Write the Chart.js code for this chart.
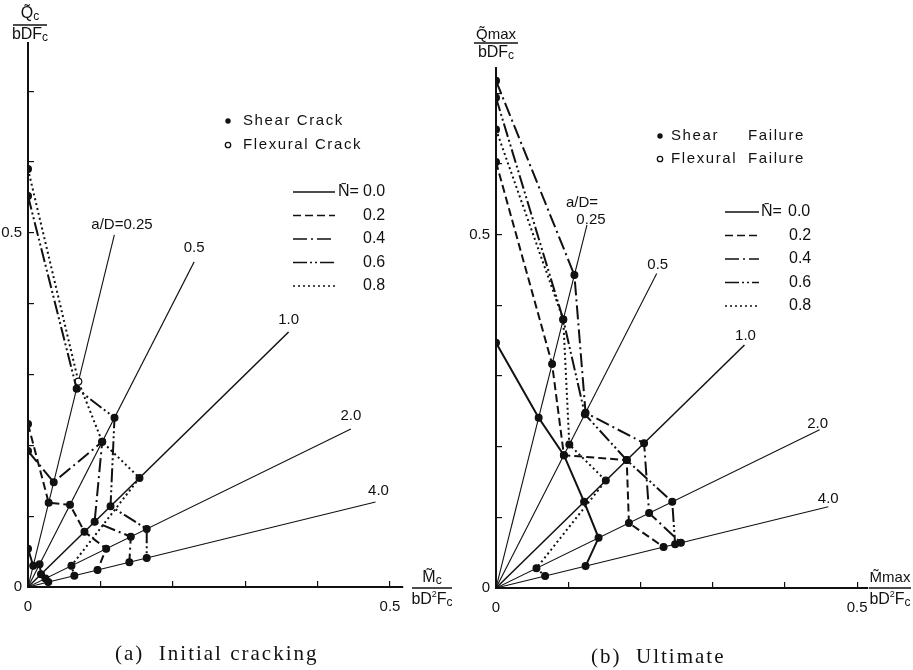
<!DOCTYPE html>
<html><head><meta charset="utf-8">
<script src="https://cdn.jsdelivr.net/npm/chart.js@4.4.1/dist/chart.umd.min.js"></script>
<style>
html,body{margin:0;padding:0;background:#fff;width:913px;height:670px;overflow:hidden}
.wrap{position:absolute;top:0;height:670px}
#wa{left:0;width:456px}
#wb{left:456px;width:457px}
.cap{position:absolute;font-family:"Liberation Serif","DejaVu Serif",serif;font-size:21px;color:#111;letter-spacing:2px;white-space:pre}
</style></head><body>
<div class="wrap" id="wa"><canvas id="ca" width="456" height="670"></canvas></div>
<div class="wrap" id="wb"><canvas id="cb" width="457" height="670"></canvas></div>
<div class="cap" style="left:115px;top:641px">(a)  Initial cracking</div>
<div class="cap" style="left:591px;top:644px">(b)  Ultimate</div>
<script>
// ---------- data ----------
// radial lines a/D (labels) and the M/(Q·D) slope measured along each drawn ray
const aDLabels = ['0.25', '0.5', '1.0', '2.0', '4.0'];
const slopeA = [0, 0.24, 0.5, 1.0, 2.0, 4.0];   // first entry: Q axis (a/D = 0)
const slopeB = [0, 0.245, 0.5, 1.0, 2.0, 4.0];
const rayEndQA = [0.497, 0.459, 0.360, 0.223, 0.120];
const rayEndQB = [0.514, 0.445, 0.344, 0.224, 0.115];
const nBar = ['0.0', '0.2', '0.4', '0.6', '0.8'];

// (a) initial cracking  Qc/bDFc at a/D = 0, 0.25, 0.5, 1.0, 2.0, 4.0
const crackN00 = [0.054, 0.030, 0.032, 0.018, 0.012, 0.007];
const crackN02 = [0.230, 0.119, 0.116, 0.078, 0.054, 0.024];
const crackN04 = [0.192, 0.148, 0.205, 0.092, 0.071, 0.035];
const crackN06 = [0.552, 0.280, 0.239, 0.114, 0.082, 0.041];
const crackN08 = [0.590, 0.290, 0.205, 0.154, 0.030, 0.016];
const crackFlexural = [[], [], [], [], [1]];   // indices of flexural-crack (open) points

// (b) ultimate  Qmax/bDFc at a/D = 0, 0.25, 0.5, 1.0, 2.0, 4.0
const ultN00 = [0.347, 0.241, 0.188, 0.122, 0.071, 0.031];
const ultN02 = [0.603, 0.317, 0.188, 0.181, 0.092, 0.058];
const ultN04 = [0.718, 0.443, 0.248, 0.205, 0.106, 0.064];
const ultN06 = [0.694, 0.380, 0.246, 0.181, 0.122, 0.062];
const ultN08 = [0.649, 0.380, 0.203, 0.152, 0.028, 0.017];
const ultFlexural = [[], [], [], [], []];

// ---------- styling ----------
const INK = '#111';
const SANS = '"Liberation Sans","DejaVu Sans",sans-serif';
const dashes = [[], [8, 4], [14, 4, 2, 4], [14, 3, 2, 3, 2, 3], [2, 3]];

function drawRich(ctx, parts, cx, cy) {
  let w = 0;
  parts.forEach(p => { ctx.font = p.s + 'px ' + SANS; w += ctx.measureText(p.t).width; });
  let x = cx - w / 2;
  ctx.textAlign = 'left'; ctx.textBaseline = 'middle';
  parts.forEach(p => {
    ctx.font = p.s + 'px ' + SANS;
    ctx.fillText(p.t, x, cy + (p.dy || 0));
    x += ctx.measureText(p.t).width;
  });
  return w;
}
function frac(ctx, num, den, cx, yNum, yLine, yDen, halfW) {
  drawRich(ctx, num, cx, yNum);
  drawRich(ctx, den, cx, yDen);
  ctx.lineWidth = 1.4;
  ctx.beginPath(); ctx.moveTo(cx - halfW, yLine); ctx.lineTo(cx + halfW, yLine); ctx.stroke();
}

const decorPlugin = {
  id: 'decor',
  afterDraw(chart, args, o) {
    const ctx = chart.ctx, xs = chart.scales.x, ys = chart.scales.y;
    ctx.save();
    ctx.fillStyle = INK; ctx.strokeStyle = INK;
    // ray labels anchored to ray ends
    o.rays.forEach(r => {
      const px = xs.getPixelForValue(r.x), py = ys.getPixelForValue(r.y);
      ctx.font = '15px ' + SANS; ctx.textBaseline = 'middle';
      r.labels.forEach(l => {
        ctx.textAlign = l.align || 'center';
        ctx.fillText(l.t, px + l.dx, py + l.dy);
      });
    });
    // axis titles
    const t = o.titles;
    frac(ctx, t.yNum, t.yDen, t.yx, t.yy[0], t.yy[1], t.yy[2], t.yHalf);
    frac(ctx, t.xNum, t.xDen, t.xx, t.xy[0], t.xy[1], t.xy[2], t.xHalf);
    // marker legend
    const m = o.markLegend;
    ctx.letterSpacing = '1.6px';
    ctx.font = '15px ' + SANS; ctx.textAlign = 'left'; ctx.textBaseline = 'middle';
    m.rows.forEach((row, i) => {
      const y = m.y0 + i * m.dy;
      ctx.beginPath(); ctx.arc(m.x, y, 2.7, 0, Math.PI * 2);
      if (i === 0) ctx.fill(); else { ctx.lineWidth = 1.3; ctx.stroke(); }
      row.forEach(seg => ctx.fillText(seg.t, seg.x, y));
    });
    // line-style legend
    const L = o.lineLegend;
    ctx.letterSpacing = '0px';
    nBar.forEach((n, i) => {
      const y = L.y0 + i * L.dy;
      ctx.setLineDash(dashes[i]); ctx.lineWidth = 1.7;
      ctx.beginPath(); ctx.moveTo(L.x1, y); ctx.lineTo(L.x2, y); ctx.stroke();
      ctx.setLineDash([]);
      ctx.font = '16px ' + SANS;
      if (i === 0) { ctx.fillText('N\u0304=', L.nx, y); ctx.fillText(n, L.vx0, y); }
      else ctx.fillText(n, L.vx, y);
    });
    ctx.restore();
  }
};

function buildDatasets(series, flex, slopes, rayQ) {
  const ds = [];
  rayQ.forEach((q, i) => {
    ds.push({ data: [{x: 0, y: 0}, {x: q * slopes[i + 1], y: q}], showLine: true,
      borderColor: INK, borderWidth: i === 2 ? 1.5 : 1.1, pointRadius: 0, order: 2 });
  });
  series.forEach((qs, k) => {
    const data = qs.map((q, i) => ({x: q * slopes[i], y: q}));
    ds.push({ data, showLine: true, borderColor: INK, borderWidth: 2, borderDash: dashes[k],
      pointRadius: 3.4, pointBorderWidth: 1.2, pointBorderColor: INK,
      pointBackgroundColor: qs.map((q, i) => flex[k].includes(i) ? '#fff' : INK), order: 1 });
  });
  return ds;
}

const tickCb = v => Math.abs(v) < 1e-9 ? '0' : (Math.abs(v - 0.5) < 1e-9 ? '0.5' : '');
function axis(min, max, fitFn, padding) {
  return { type: 'linear', min, max, afterFit: fitFn,
    border: {display: true, color: INK, width: 2},
    grid: {drawOnChartArea: false, drawTicks: true, tickLength: -6, color: INK, lineWidth: 1.2},
    ticks: {stepSize: 0.1, includeBounds: false, autoSkip: false, maxRotation: 0, padding,
      color: INK, font: {family: SANS, size: 15}, callback: tickCb} };
}

function makeChart(id, cfg) {
  return new Chart(document.getElementById(id), {
    type: 'scatter',
    data: { datasets: buildDatasets(cfg.series, cfg.flex, cfg.slopes, cfg.rayQ) },
    options: {
      responsive: false, animation: false, events: [],
      layout: { padding: cfg.pad },
      scales: {
        x: axis(0, cfg.xMax, s => { s.height = 40; }, 17),
        y: axis(0, cfg.yMax, s => { s.width = cfg.yW; }, 12)
      },
      plugins: { legend: {display: false}, tooltip: {enabled: false}, decor: cfg.decor }
    },
    plugins: [decorPlugin]
  });
}

const raysDecor = (slopes, rayQ, offs) => rayQ.map((q, i) => ({x: q * slopes[i + 1], y: q, labels: offs[i]}));

makeChart('ca', {
  series: [crackN00, crackN02, crackN04, crackN06, crackN08], flex: crackFlexural,
  slopes: slopeA, rayQ: rayEndQA, xMax: 0.518, yMax: 0.768, yW: 28,
  pad: {left: 0, top: 43, right: 53, bottom: 43},
  decor: {
    rays: raysDecor(slopeA, rayEndQA, [
      [{t: 'a/D=' + aDLabels[0], dx: -23, dy: -10, align: 'left'}],
      [{t: aDLabels[1], dx: 0, dy: -14}],
      [{t: aDLabels[2], dx: 0, dy: -12}],
      [{t: aDLabels[3], dx: 0, dy: -13}],
      [{t: aDLabels[4], dx: 3, dy: -11}]]),
    titles: {
      yNum: [{t: 'Q\u0303', s: 16}, {t: 'c', s: 12, dy: 3}], yDen: [{t: 'bDF', s: 16}, {t: 'c', s: 12, dy: 3}],
      yx: 30, yy: [14, 25, 35], yHalf: 17,
      xNum: [{t: 'M\u0303', s: 16}, {t: 'c', s: 12, dy: 3}],
      xDen: [{t: 'bD', s: 16}, {t: '2', s: 9, dy: -5}, {t: 'F', s: 16}, {t: 'c', s: 12, dy: 3}],
      xx: 432, xy: [578, 588, 600], xHalf: 20
    },
    markLegend: {x: 228, y0: 121, dy: 24,
      rows: [[{t: 'Shear Crack', x: 243}], [{t: 'Flexural Crack', x: 243}]]},
    lineLegend: {x1: 293, x2: 335, y0: 192, dy: 23.5, nx: 338, vx0: 363, vx: 363}
  }
});

makeChart('cb', {
  series: [ultN00, ultN02, ultN04, ultN06, ultN08], flex: ultFlexural,
  slopes: slopeB, rayQ: rayEndQB, xMax: 0.515, yMax: 0.736, yW: 40,
  pad: {left: 0, top: 68, right: 45, bottom: 42},
  decor: {
    rays: raysDecor(slopeB, rayEndQB, [
      [{t: 'a/D=', dx: -5, dy: -22}, {t: aDLabels[0], dx: 4, dy: -5}],
      [{t: aDLabels[1], dx: 1, dy: -9}],
      [{t: aDLabels[2], dx: 1, dy: -9}],
      [{t: aDLabels[3], dx: -2, dy: -6}],
      [{t: aDLabels[4], dx: 0, dy: -8}]]),
    titles: {
      yNum: [{t: 'Q\u0303max', s: 15}], yDen: [{t: 'bDF', s: 16}, {t: 'c', s: 12, dy: 3}],
      yx: 40, yy: [35, 43, 53], yHalf: 22,
      xNum: [{t: 'M\u0303max', s: 15}],
      xDen: [{t: 'bD', s: 16}, {t: '2', s: 9, dy: -5}, {t: 'F', s: 16}, {t: 'c', s: 12, dy: 3}],
      xx: 434, xy: [578, 588, 600], xHalf: 21
    },
    markLegend: {x: 204, y0: 136, dy: 23,
      rows: [[{t: 'Shear', x: 215}, {t: 'Failure', x: 292}], [{t: 'Flexural', x: 215}, {t: 'Failure', x: 292}]]},
    lineLegend: {x1: 269, x2: 303, y0: 212, dy: 23.5, nx: 305, vx0: 332, vx: 333}
  }
});
</script>
</body></html>
